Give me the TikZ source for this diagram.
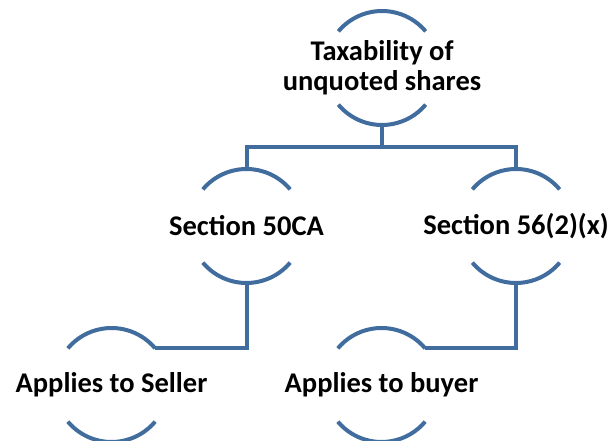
\documentclass[tikz,border=0pt]{standalone}
\usepackage{fontspec}
\setmainfont{Carlito}
\definecolor{arcblue}{RGB}{64,108,158}
\tikzset{
  circ/.style={inner sep=0pt, font=\bfseries\fontsize{28.5}{30}\selectfont, align=center, text=black},
  conn/.style={draw=arcblue, line width=4pt, line join=miter}
}
\newcommand{\arcs}[1]{%
  \draw[conn] ([shift={(40:57pt)}]#1.center) arc[start angle=40, end angle=140, radius=57pt];
  \draw[conn] ([shift={(-140:57pt)}]#1.center) arc[start angle=-140, end angle=-40, radius=57pt];}
\begin{document}
\begin{tikzpicture}[x=1pt,y=1pt]
\useasboundingbox (0,0) rectangle (613,441);
\node[circ] (top) at (382,373) {Taxability of\\unquoted shares};
\node[circ] (s50) at (246.5,215) {Section 50CA};
\node[circ] (s56) at (516,215) {Section 56(2)(x)};
\node[circ] (seller) at (111.5,56) {Applies to Seller};
\node[circ] (buyer) at (381.5,56) {Applies to buyer};
\arcs{top}
\arcs{s50}
\arcs{s56}
\arcs{seller}
\arcs{buyer}
\coordinate (bar) at (382,294);
\draw[conn] ([yshift=-57pt]top.center) -- (bar);
\draw[conn] ([yshift=57pt]s50.center) |- (bar) -| ([yshift=57pt]s56.center);
\draw[conn] ([yshift=-57pt]s50.center) |- ([shift={(40:57pt)}]seller.center);
\draw[conn] ([yshift=-57pt]s56.center) |- ([shift={(40:57pt)}]buyer.center);
\end{tikzpicture}
\end{document}
